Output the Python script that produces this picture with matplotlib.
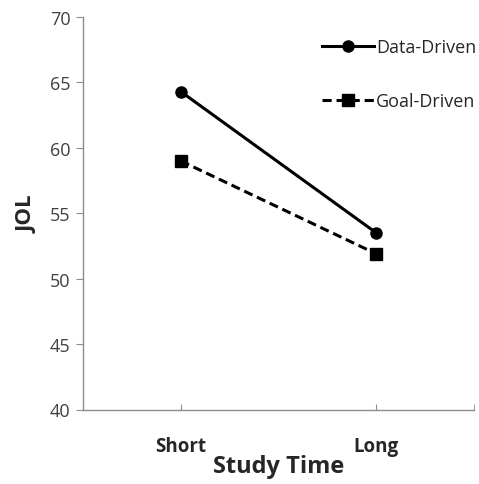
import matplotlib
matplotlib.use("Agg")
import matplotlib.pyplot as plt

# data
study_time = ["Short", "Long"]
data_driven = [64.3, 53.5]
goal_driven = [59.0, 51.9]
y_ticks = [40, 45, 50, 55, 60, 65, 70]

plt.rcParams['font.family'] = ['Open Sans', 'DejaVu Sans']

fig = plt.figure(figsize=(4.79, 4.85), dpi=100)
ax = fig.add_axes([83 / 479, 1 - 410.5 / 485, (474 - 83) / 479, (410.5 - 18) / 485])

x = list(range(len(study_time)))
ax.plot(x, data_driven, color='black', lw=2.2, marker='o', ms=8, label='Data-Driven')
ax.plot(x, goal_driven, color='black', lw=2.2, ls=(0, (3, 1.6)), marker='s', ms=8,
        label='Goal-Driven')

ax.set_xlim(-0.5, 1.5)
ax.set_ylim(40, 70)
ax.set_yticks(y_ticks)
ax.set_xticks(x)
ax.set_xticklabels(study_time, fontsize=13.5, fontweight='bold', color='#262626')
ax.set_xticks([-0.5, 1.5], minor=True)

for s in ['top', 'right']:
    ax.spines[s].set_visible(False)
for s in ['left', 'bottom']:
    ax.spines[s].set_color('#8c8c8c')
    ax.spines[s].set_linewidth(1.0)

ax.tick_params(axis='y', direction='out', length=5, color='#8c8c8c', labelsize=13,
               labelcolor='#404040', pad=4)
ax.tick_params(axis='x', which='both', direction='in', length=4, color='#8c8c8c', pad=19)

ax.set_xlabel('Study Time', fontsize=17, fontweight='bold', color='#262626', labelpad=-1)
ax.set_ylabel('JOL', fontsize=16, fontweight='bold', color='#262626', labelpad=9)

leg = ax.legend(loc='upper right', bbox_to_anchor=(1.025, 0.965), frameon=False,
                fontsize=13, handlelength=2.9, handletextpad=0.1, labelspacing=2.0,
                borderaxespad=0)
for t in leg.get_texts():
    t.set_color('#262626')

fig.savefig('out.png', dpi=100)
